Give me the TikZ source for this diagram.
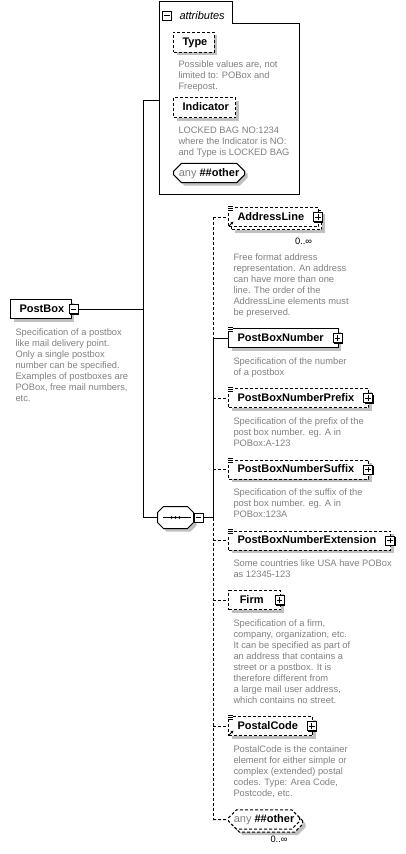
\documentclass[tikz,border=0pt]{standalone}
\usepackage{fontspec}
\setmainfont{Liberation Sans}
\usepackage{xcolor}
\usetikzlibrary{positioning, arrows.meta, shapes.misc, shadows}

\definecolor{descgray}{RGB}{128,128,128}
\definecolor{shadowgray}{RGB}{192,192,192}

% small icons on the element boxes
\newcommand{\docmark}[1]{%
  \fill[white] ([xshift=-0.75pt,yshift=1.25pt]#1.north west) rectangle ([xshift=4pt,yshift=-3pt]#1.north west);
  \foreach \k in {0,1,2}
    \draw[line width=0.5pt] ([yshift=0.75pt-\k*1.5pt]#1.north west) -- ++(3.5pt,0pt);
}
\newcommand{\refmark}[1]{%
  \draw[line width=0.6pt, -{Stealth[length=2pt,width=2.2pt]}] ([xshift=1pt,yshift=1pt]#1.south west) -- ++(3pt,3pt);
}

\begin{document}
\begin{tikzpicture}[x=0.75pt, y=-0.75pt, line width=0.75pt,
    labelfont/.style={font=\fontsize{8.25pt}{10pt}\selectfont\bfseries},
    desc/.style={font=\fontsize{7pt}{8.25pt}\selectfont, text=descgray, align=left, inner sep=0pt},
    mult/.style={font=\fontsize{7pt}{8.25pt}\selectfont, inner sep=0pt},
    optional/.style={dash pattern=on 2.25pt off 1.5pt},
    boxshadow/.style={drop shadow={shadow xshift=#1, shadow yshift=-#1, fill=shadowgray, opacity=1}},
    boxshadow/.default=2.25pt,
    blackshadow/.style={drop shadow={shadow xshift=0.75pt, shadow yshift=-0.75pt, fill=black, opacity=1}},
    entity/.style={draw, fill=white, labelfont, inner sep=0pt, minimum height=14.25pt,
        text height=6pt, text depth=1.5pt, anchor=west,
        execute at begin node=\hspace*{6.75pt}, execute at end node=\hspace*{#1}},
    entity/.default=11pt,
    single/.style={boxshadow},
    multiple/.style={boxshadow=4.5pt, general shadow={shadow xshift=2.25pt, shadow yshift=-2.25pt, draw, optional, fill=white}},
    wildcard/.style={chamfered rectangle, chamfered rectangle xsep=2.5pt, draw, fill=white, labelfont,
        inner xsep=1.5pt, inner ysep=0pt, minimum height=13.5pt, text height=6pt, text depth=1.5pt, anchor=west},
    signbox/.style={draw, fill=white, minimum size=6.75pt, inner sep=0pt, line width=0.6pt},
    minus/.style={signbox, path picture={
        \draw[line width=0.6pt] ([xshift=1.3pt]path picture bounding box.west) -- ([xshift=-1.3pt]path picture bounding box.east);}},
    plus/.style={signbox, blackshadow, path picture={
        \draw[line width=0.6pt] ([xshift=1.3pt]path picture bounding box.west) -- ([xshift=-1.3pt]path picture bounding box.east);
        \draw[line width=0.6pt] ([yshift=-1.3pt]path picture bounding box.north) -- ([yshift=1.3pt]path picture bounding box.south);}}
  ]
  \useasboundingbox (0,0) rectangle (406,854);

  % root element
  \node[entity=5.25pt, single] (postbox) at (10,309) {PostBox};
  \node[minus, blackshadow] (postbox-x) at ([xshift=1.5pt]postbox.east) {};
  \node[desc, below right=6.75pt and 3.75pt of postbox.south west] (postbox-d) {Specification of a postbox\\like mail delivery point.\\Only a single postbox\\number can be specified.\\Examples of postboxes are\\POBox, free mail numbers,\\etc.};

  % attribute group
  \draw[fill=white] (159,1) -- (232,1) -- (232,23) -- (299,23) -- (299,194) -- (159,194) -- cycle;
  \node[minus] (attrs-x) at (167,15.5) {};
  \node[font=\fontsize{8.25pt}{10pt}\selectfont\itshape, anchor=west, inner sep=0pt] (attrs-t) at (179,15.5) {attributes};
  \coordinate (attrs-in) at (159,100);

  \node[entity=5.25pt, optional, single, minimum height=15pt] (type) at (173,42) {Type};
  \node[desc, below right=6pt and 3.75pt of type.south west] (type-d) {Possible values are, not\\limited to: POBox and\\Freepost.};
  \node[entity=5.25pt, optional, single, minimum height=15pt] (indicator) at (173,107.5) {Indicator};
  \node[desc, below right=6pt and 3.75pt of indicator.south west] (indicator-d) {LOCKED BAG NO:1234\\where the Indicator is NO:\\and Type is LOCKED BAG};
  \node[wildcard, single] (attrs-any) at (173,173) {{\mdseries\color{descgray}any} \#\#other};

  % sequence
  \node[minimum width=26.25pt, minimum height=15.75pt, inner sep=0pt] (seq) at (175.5,517.5) {};
  \draw[fill=white, boxshadow] ([xshift=4.5pt]seq.north west) -- ([xshift=-4.5pt]seq.north east)
    -- ([yshift=-4.5pt]seq.north east) -- ([yshift=4.5pt]seq.south east)
    -- ([xshift=-4.5pt]seq.south east) -- ([xshift=4.5pt]seq.south west)
    -- ([yshift=4.5pt]seq.south west) -- ([yshift=-4.5pt]seq.north west) -- cycle;
  \draw ([xshift=4pt]seq.west) -- ([xshift=-2pt]seq.east);
  \foreach \dx in {-3,0,3}
    \fill ([xshift=\dx pt]seq.center) circle (1pt);
  \node[minus, blackshadow] (seq-x) at (198.5,517.5) {};

  % child elements
  \node[entity, optional, multiple] (addressline) at (228,217) {AddressLine};
  \node[plus] (addressline-x) at ([xshift=-1pt]addressline.east) {};
  \node[mult, below left=7.5pt and 5pt of addressline.south east] (addressline-m) {0..∞};
  \node[desc, below right=19.5pt and 3.75pt of addressline.south west] (addressline-d) {Free format address\\representation. An address\\can have more than one\\line. The order of the\\AddressLine elements must\\be preserved.};

  \node[entity, single] (postboxnumber) at (228,338) {PostBoxNumber};
  \node[plus] (postboxnumber-x) at ([xshift=-1pt]postboxnumber.east) {};
  \node[desc, below right=6.75pt and 3.75pt of postboxnumber.south west] (postboxnumber-d) {Specification of the number\\of a postbox};

  \node[entity, optional, single] (prefix) at (228,398) {PostBoxNumberPrefix};
  \node[plus] (prefix-x) at ([xshift=-1pt]prefix.east) {};
  \node[desc, below right=6.75pt and 3.75pt of prefix.south west] (prefix-d) {Specification of the prefix of the\\post box number. eg. A in\\POBox:A-123};

  \node[entity, optional, single] (suffix) at (228,469.5) {PostBoxNumberSuffix};
  \node[plus] (suffix-x) at ([xshift=-1pt]suffix.east) {};
  \node[desc, below right=6.75pt and 3.75pt of suffix.south west] (suffix-d) {Specification of the suffix of the\\post box number. eg. A in\\POBox:123A};

  \node[entity, optional, single] (extension) at (228,540.5) {PostBoxNumberExtension};
  \node[plus] (extension-x) at ([xshift=-1pt]extension.east) {};
  \node[desc, below right=6.75pt and 3.75pt of extension.south west] (extension-d) {Some countries like USA have POBox\\as 12345-123};

  \node[entity, optional, single, minimum width=39pt] (firm) at (228,600) {Firm};
  \node[plus] (firm-x) at ([xshift=-1pt]firm.east) {};
  \node[desc, below right=6.75pt and 3.75pt of firm.south west] (firm-d) {Specification of a firm,\\company, organization, etc.\\It can be specified as part of\\an address that contains a\\street or a postbox. It is\\therefore different from\\a large mail user address,\\which contains no street.};

  \node[entity, optional, single] (postalcode) at (228,726) {PostalCode};
  \node[plus] (postalcode-x) at ([xshift=-1pt]postalcode.east) {};
  \node[desc, below right=6.75pt and 3.75pt of postalcode.south west] (postalcode-d) {PostalCode is the container\\element for either simple or\\complex (extended) postal\\codes. Type: Area Code,\\Postcode, etc.};

  \node[wildcard, optional, multiple] (any) at (228,819.5) {{\mdseries\color{descgray}any} \#\#other};
  \node[mult, below left=7.5pt and 6pt of any.south east] (any-m) {0..∞};

  \docmark{addressline}
  \docmark{postboxnumber}
  \docmark{prefix}
  \docmark{suffix}
  \docmark{extension}
  \docmark{postalcode}
  \refmark{addressline}
  \refmark{postalcode}

  % connectors
  \coordinate (trunk) at (143,0);
  \coordinate (branch) at (213,0);
  \draw (attrs-in) -| (trunk |- seq) -- (seq.west);
  \draw (postbox-x) -- (postbox-x -| trunk);
  \draw (seq-x) -- (seq-x -| branch);
  \draw (branch |- postboxnumber) -- (branch |- seq-x);
  \draw[optional] (branch |- addressline) -- (branch |- postboxnumber);
  \draw[optional] (branch |- seq-x) -- (branch |- any);
  \draw (branch |- postboxnumber) -- (postboxnumber);
  \foreach \n in {addressline, prefix, suffix, extension, firm, postalcode, any}
    \draw[optional] (branch |- \n) -- (\n);
\end{tikzpicture}
\end{document}
